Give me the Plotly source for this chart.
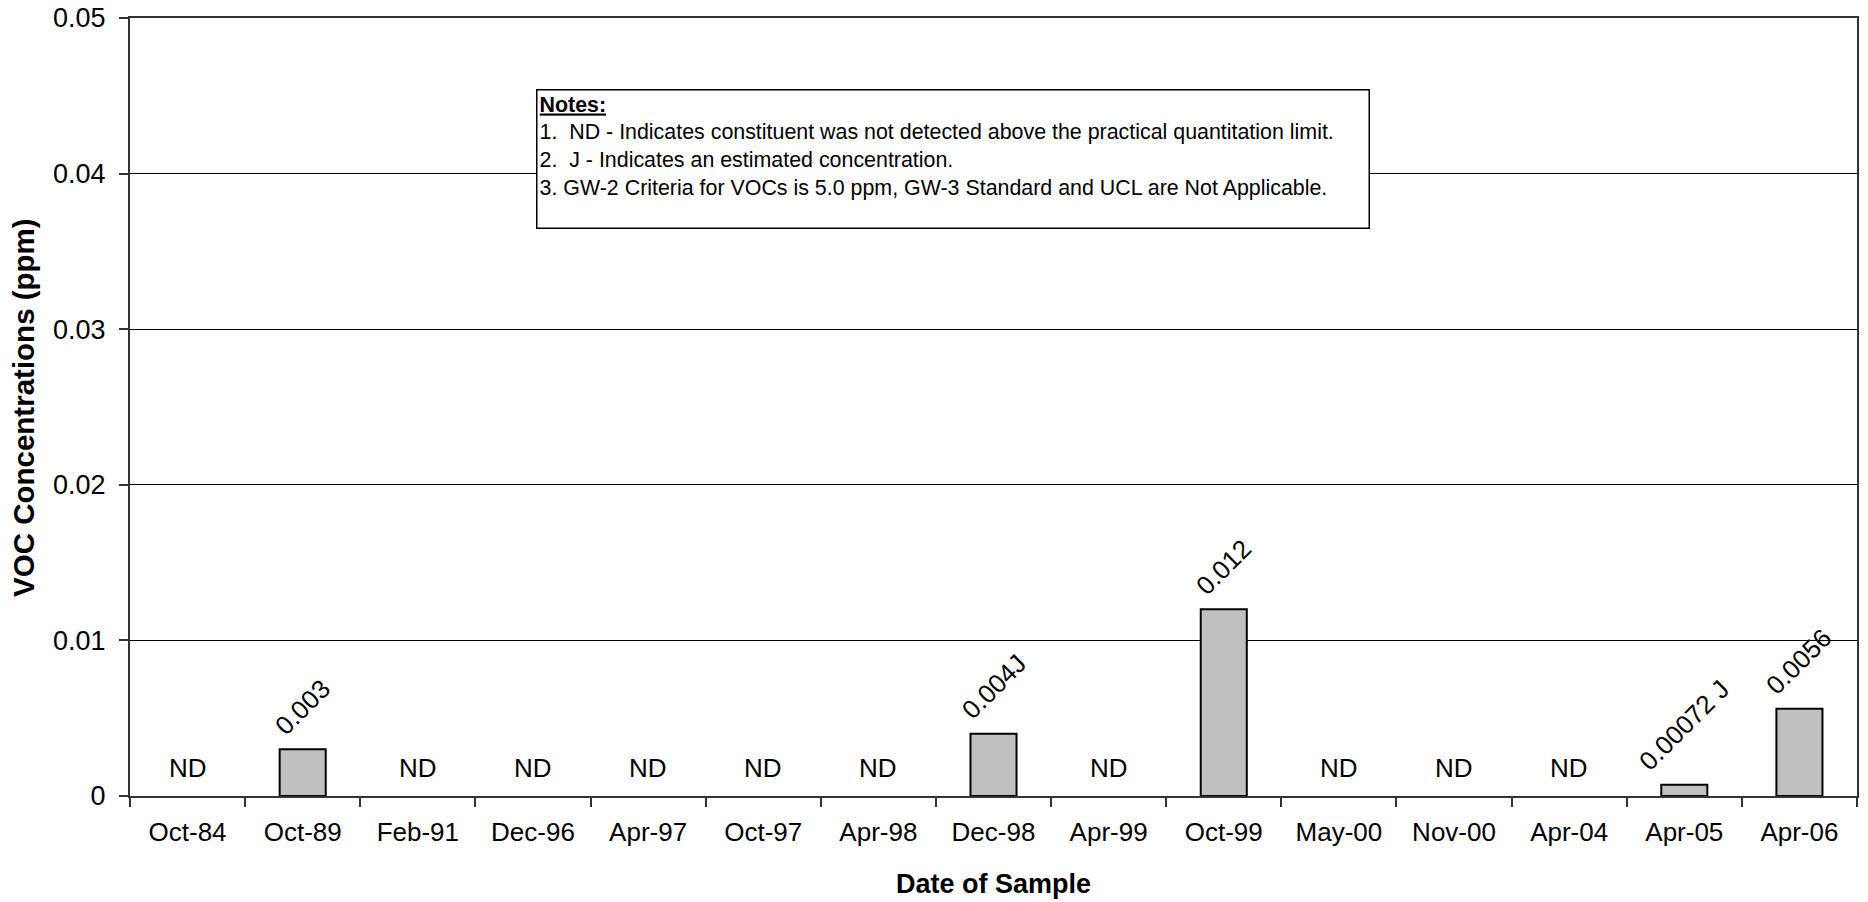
import plotly.graph_objects as go

# sample dates and VOC concentrations (ppm); ND = not detected, no bar
dates = ["Oct-84", "Oct-89", "Feb-91", "Dec-96", "Apr-97", "Oct-97", "Apr-98", "Dec-98",
         "Apr-99", "Oct-99", "May-00", "Nov-00", "Apr-04", "Apr-05", "Apr-06"]
voc = [None, 0.003, None, None, None, None, None, 0.004, None, 0.012, None, None, None, 0.00072, 0.0056]
labels = ["ND", "0.003", "ND", "ND", "ND", "ND", "ND", "0.004J",
          "ND", "0.012", "ND", "ND", "ND", "0.00072 J", "0.0056"]
y_ticks = [0, 0.01, 0.02, 0.03, 0.04, 0.05]
y_ticktext = ["0", "0.01", "0.02", "0.03", "0.04", "0.05"]
nd_level = 0.0018

notes = ("<b><u>Notes:</u></b><br>"
         "1.  ND - Indicates constituent was not detected above the practical quantitation limit.<br>"
         "2.  J - Indicates an estimated concentration.<br>"
         "3. GW-2 Criteria for VOCs is 5.0 ppm, GW-3 Standard and UCL are Not Applicable.")

FONT = "Liberation Sans, Arial, sans-serif"

fig = go.Figure()
fig.add_trace(go.Bar(x=dates, y=voc, marker=dict(color="#C0C0C0", line=dict(color="black", width=2)),
                     width=0.4, hoverinfo="x+y"))

annos = []
for d, v, lab in zip(dates, voc, labels):
    if lab == "ND":
        annos.append(dict(x=d, y=nd_level, text=lab, showarrow=False, xanchor="center", yanchor="middle",
                          font=dict(size=26, color="black", family=FONT)))
    else:
        annos.append(dict(x=d, y=v, text=lab, showarrow=False, textangle=-45, xanchor="center",
                          yanchor="bottom", yshift=6, font=dict(size=26, color="black", family=FONT)))

# notes box
annos.append(dict(xref="paper", yref="paper", x=0.2351, y=0.9087, xanchor="left", yanchor="top",
                  text=notes, align="left", valign="top", showarrow=False, width=827, height=133,
                  bordercolor="black", borderwidth=1.5, borderpad=2, bgcolor="white",
                  font=dict(size=21.4, color="black", family=FONT)))
# axis titles
annos.append(dict(xref="paper", yref="paper", x=-0.062, y=0.5, text="<b>VOC Concentrations (ppm)</b>",
                  textangle=-90, showarrow=False, xanchor="center", yanchor="middle",
                  font=dict(size=29.5, color="black", family=FONT)))
annos.append(dict(xref="paper", yref="paper", x=0.5, y=-0.1131, text="<b>Date of Sample</b>",
                  showarrow=False, xanchor="center", yanchor="middle",
                  font=dict(size=27, color="black", family=FONT)))

fig.update_layout(
    width=1868, height=902,
    margin=dict(l=130, r=11, t=18, b=106),
    paper_bgcolor="white", plot_bgcolor="white",
    showlegend=False, bargap=0.6,
    font=dict(family=FONT, size=26, color="black"),
    annotations=annos,
)
fig.update_xaxes(type="category", showline=True, linecolor="#333333", linewidth=2, mirror=True,
                 ticks="outside", tickson="boundaries", ticklen=9, tickcolor="#333333", tickwidth=1.5,
                 showgrid=False, ticklabelstandoff=12, tickfont=dict(size=26), automargin=False)
fig.update_yaxes(range=[0, 0.05], tickvals=y_ticks, ticktext=y_ticktext, showline=True,
                 linecolor="#333333", linewidth=2, mirror=True, ticks="outside", ticklen=9,
                 tickcolor="#333333", tickwidth=1.5, showgrid=True, gridcolor="black", gridwidth=1,
                 zeroline=False, ticklabelstandoff=8, tickfont=dict(size=27), automargin=False)

# drop the default 8px page margin so the figure fills the window exactly
fig.write_html("out.html", config={"displayModeBar": False},
               post_script="document.body.style.margin='0';")
